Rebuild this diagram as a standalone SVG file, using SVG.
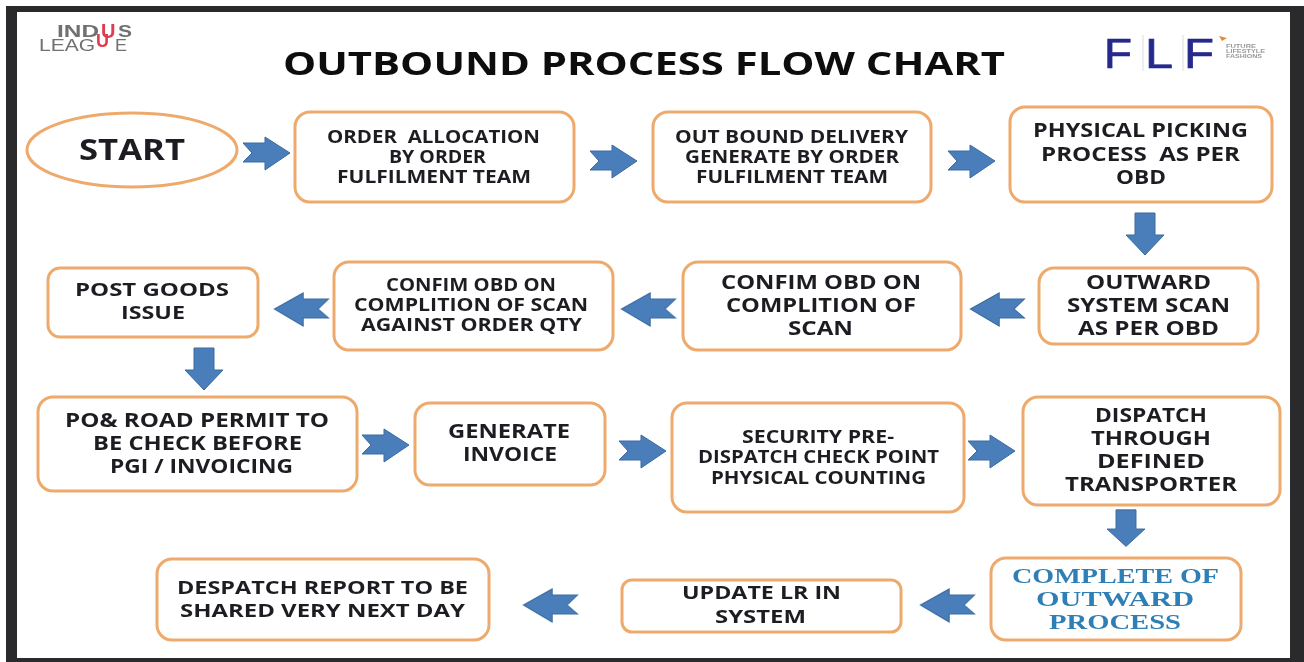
<svg xmlns="http://www.w3.org/2000/svg" width="1304" height="662" viewBox="0 0 1304 662">
<style>
.box{fill:#fff;stroke:#eeaa6c;stroke-width:3}
.t{font-family:"Open Sans","Liberation Sans",sans-serif;font-weight:700;fill:#1f1f22;text-anchor:middle;white-space:pre}
.s{font-size:18px}
.m{font-size:20px}
.b{font-family:"Liberation Serif",serif;font-weight:700;fill:#2f7fb5;text-anchor:middle;font-size:22px}
.arrow{fill:#4a7ebb;stroke:#3a6a9f;stroke-width:1}
.logo{font-family:"Liberation Sans",sans-serif;fill:#707070;font-size:16px}
.red{font-family:"Liberation Sans",sans-serif;fill:#dc3c50;font-weight:700}
.flf{font-family:"Liberation Sans",sans-serif;fill:#27298c;font-size:43px;stroke:#27298c;stroke-width:.7}
.tiny{font-family:"Liberation Sans",sans-serif;fill:#999;font-size:5.5px;font-weight:700}
</style>
<defs>
<path id="ar" d="M-23,-10 L-1,-10 L-1,-16 L24,0 L-1,17 L-1,9 L-23,9 L-14,0 Z"/>
<path id="ad" d="M-10,-22 L10,-22 L10,0 L19,0 L0,20 L-19,0 L-10,0 Z"/>
<filter id="soft" filterUnits="userSpaceOnUse" x="0" y="0" width="1304" height="662"><feGaussianBlur stdDeviation="0.5"/></filter>
</defs>
<rect x="0" y="0" width="1304" height="662" fill="#fff"/>
<path fill="#2a2a2c" fill-rule="evenodd" d="M6,6H1304V662H6Z M17,12V658H1290V12Z"/>
<g filter="url(#soft)">
<g id="logo-indus"><text class="logo" x="57" y="37" font-weight="700" textLength="42" lengthAdjust="spacingAndGlyphs">IND</text><text class="red" x="101" y="38" font-size="20">U</text><text class="logo" x="118" y="37" font-weight="700" textLength="14" lengthAdjust="spacingAndGlyphs">S</text><text class="logo" x="39" y="51" textLength="56" lengthAdjust="spacingAndGlyphs">LEAG</text><text class="red" x="96" y="47" font-size="18">U</text><text class="logo" x="115" y="51" textLength="12" lengthAdjust="spacingAndGlyphs">E</text></g>
<g id="logo-flf"><text class="flf" x="1104" y="68" textLength="28" lengthAdjust="spacingAndGlyphs">F</text><text class="flf" x="1145" y="68" textLength="28" lengthAdjust="spacingAndGlyphs">L</text><text class="flf" x="1184" y="68" textLength="30" lengthAdjust="spacingAndGlyphs">F</text><path d="M1143,35V71M1183,35V71" stroke="#dcdcdc"/><path d="M1219,36l8,2-5,3z" fill="#e58a3a"/><text class="tiny" x="1226" y="48" textLength="30" lengthAdjust="spacingAndGlyphs">FUTURE</text><text class="tiny" x="1226" y="53" textLength="39" lengthAdjust="spacingAndGlyphs">LIFESTYLE</text><text class="tiny" x="1226" y="58" textLength="36" lengthAdjust="spacingAndGlyphs">FASHIONS</text></g>
<text id="title" x="644" y="75" font-family="Open Sans,Liberation Sans,sans-serif" font-weight="700" font-size="33" fill="#111" text-anchor="middle" textLength="722" lengthAdjust="spacingAndGlyphs">OUTBOUND PROCESS FLOW CHART</text>
<g id="connectors" class="arrow">
<use href="#ar" transform="translate(266,153)"/>
<use href="#ar" transform="translate(613,161)"/>
<use href="#ar" transform="translate(971,161)"/>
<use href="#ar" transform="translate(385,445)"/>
<use href="#ar" transform="translate(642,451)"/>
<use href="#ar" transform="translate(991,451)"/>
<use href="#ar" transform="translate(998,309) scale(-1.15,1)"/>
<use href="#ar" transform="translate(649,309) scale(-1.15,1)"/>
<use href="#ar" transform="translate(302,309) scale(-1.15,1)"/>
<use href="#ar" transform="translate(948,605) scale(-1.15,1)"/>
<use href="#ar" transform="translate(551,605) scale(-1.15,1)"/>
<use href="#ad" transform="translate(1145,235)"/>
<use href="#ad" transform="translate(204,370)"/>
<use href="#ad" transform="translate(1126,529) scale(1,.87)"/>
</g>
<g id="start"><ellipse class="box" cx="132" cy="150" rx="105" ry="37"/><text class="t" x="132" y="160" font-size="28" textLength="106" lengthAdjust="spacingAndGlyphs">START</text></g>
<g id="n1"><rect class="box" x="295" y="112" width="279" height="90" rx="15"/><text class="t s" x="433.500" y="143" textLength="213" lengthAdjust="spacingAndGlyphs">ORDER  ALLOCATION</text><text class="t s" x="437.500" y="163" textLength="97" lengthAdjust="spacingAndGlyphs">BY ORDER</text><text class="t s" x="434" y="183" textLength="194" lengthAdjust="spacingAndGlyphs">FULFILMENT TEAM</text></g>
<g id="n2"><rect class="box" x="653" y="112" width="278" height="90" rx="15"/><text class="t s" x="791.500" y="143" textLength="233" lengthAdjust="spacingAndGlyphs">OUT BOUND DELIVERY</text><text class="t s" x="792" y="163" textLength="214" lengthAdjust="spacingAndGlyphs">GENERATE BY ORDER</text><text class="t s" x="792" y="183" textLength="192" lengthAdjust="spacingAndGlyphs">FULFILMENT TEAM</text></g>
<g id="n3"><rect class="box" x="1010" y="107" width="262" height="95" rx="15"/><text class="t m" x="1140.500" y="137" textLength="215" lengthAdjust="spacingAndGlyphs">PHYSICAL PICKING</text><text class="t m" x="1140.500" y="161" textLength="199" lengthAdjust="spacingAndGlyphs">PROCESS  AS PER</text><text class="t m" x="1141" y="184" textLength="50" lengthAdjust="spacingAndGlyphs">OBD</text></g>
<g id="n4"><rect class="box" x="1039" y="268" width="219" height="76" rx="15"/><text class="t m" x="1148.500" y="289" textLength="125" lengthAdjust="spacingAndGlyphs">OUTWARD</text><text class="t m" x="1148.500" y="312" textLength="163" lengthAdjust="spacingAndGlyphs">SYSTEM SCAN</text><text class="t m" x="1148.500" y="335" textLength="141" lengthAdjust="spacingAndGlyphs">AS PER OBD</text></g>
<g id="n5"><rect class="box" x="683" y="262" width="278" height="88" rx="15"/><text class="t m" x="821" y="289" textLength="200" lengthAdjust="spacingAndGlyphs">CONFIM OBD ON</text><text class="t m" x="821" y="312" textLength="190" lengthAdjust="spacingAndGlyphs">COMPLITION OF</text><text class="t m" x="820.500" y="335" textLength="65" lengthAdjust="spacingAndGlyphs">SCAN</text></g>
<g id="n6"><rect class="box" x="334" y="262" width="279" height="88" rx="15"/><text class="t s" x="471" y="291" textLength="170" lengthAdjust="spacingAndGlyphs">CONFIM OBD ON</text><text class="t s" x="471" y="311" textLength="234" lengthAdjust="spacingAndGlyphs">COMPLITION OF SCAN</text><text class="t s" x="471.500" y="331" textLength="221" lengthAdjust="spacingAndGlyphs">AGAINST ORDER QTY</text></g>
<g id="n7"><rect class="box" x="48" y="268" width="210" height="69" rx="12"/><text class="t s" x="152" y="296" textLength="154" lengthAdjust="spacingAndGlyphs">POST GOODS</text><text class="t s" x="153" y="319" textLength="64" lengthAdjust="spacingAndGlyphs">ISSUE</text></g>
<g id="n8"><rect class="box" x="38" y="397" width="319" height="94" rx="15"/><text class="t m" x="197" y="427" textLength="264" lengthAdjust="spacingAndGlyphs">PO&amp; ROAD PERMIT TO</text><text class="t m" x="197.500" y="450" textLength="209" lengthAdjust="spacingAndGlyphs">BE CHECK BEFORE</text><text class="t m" x="201.500" y="473" textLength="183" lengthAdjust="spacingAndGlyphs">PGI / INVOICING</text></g>
<g id="n9"><rect class="box" x="415" y="403" width="190" height="82" rx="15"/><text class="t m" x="509" y="438" textLength="122" lengthAdjust="spacingAndGlyphs">GENERATE</text><text class="t m" x="510" y="461" textLength="94" lengthAdjust="spacingAndGlyphs">INVOICE</text></g>
<g id="n10"><rect class="box" x="672" y="403" width="292" height="109" rx="15"/><text class="t s" x="818" y="443" textLength="152" lengthAdjust="spacingAndGlyphs">SECURITY PRE-</text><text class="t s" x="818.500" y="463" textLength="241" lengthAdjust="spacingAndGlyphs">DISPATCH CHECK POINT</text><text class="t s" x="818.500" y="484" textLength="215" lengthAdjust="spacingAndGlyphs">PHYSICAL COUNTING</text></g>
<g id="n11"><rect class="box" x="1023" y="397" width="257" height="108" rx="15"/><text class="t m" x="1151" y="422" textLength="112" lengthAdjust="spacingAndGlyphs">DISPATCH</text><text class="t m" x="1151" y="445" textLength="120" lengthAdjust="spacingAndGlyphs">THROUGH</text><text class="t m" x="1151" y="468" textLength="108" lengthAdjust="spacingAndGlyphs">DEFINED</text><text class="t m" x="1151" y="491" textLength="172" lengthAdjust="spacingAndGlyphs">TRANSPORTER</text></g>
<g id="n12"><rect class="box" x="991" y="558" width="250" height="82" rx="15"/><text class="b" x="1115.500" y="583" textLength="207" lengthAdjust="spacingAndGlyphs">COMPLETE OF</text><text class="b" x="1115" y="606" textLength="158" lengthAdjust="spacingAndGlyphs">OUTWARD</text><text class="b" x="1115" y="629" textLength="132" lengthAdjust="spacingAndGlyphs">PROCESS</text></g>
<g id="n13"><rect class="box" x="622" y="580" width="279" height="52" rx="10"/><text class="t s" x="761.500" y="599" textLength="159" lengthAdjust="spacingAndGlyphs">UPDATE LR IN</text><text class="t s" x="760.500" y="623" textLength="91" lengthAdjust="spacingAndGlyphs">SYSTEM</text></g>
<g id="n14"><rect class="box" x="157" y="559" width="332" height="81" rx="15"/><text class="t s" x="322.500" y="594" textLength="291" lengthAdjust="spacingAndGlyphs">DESPATCH REPORT TO BE</text><text class="t s" x="322.500" y="617" textLength="285" lengthAdjust="spacingAndGlyphs">SHARED VERY NEXT DAY</text></g>
</g>
</svg>
